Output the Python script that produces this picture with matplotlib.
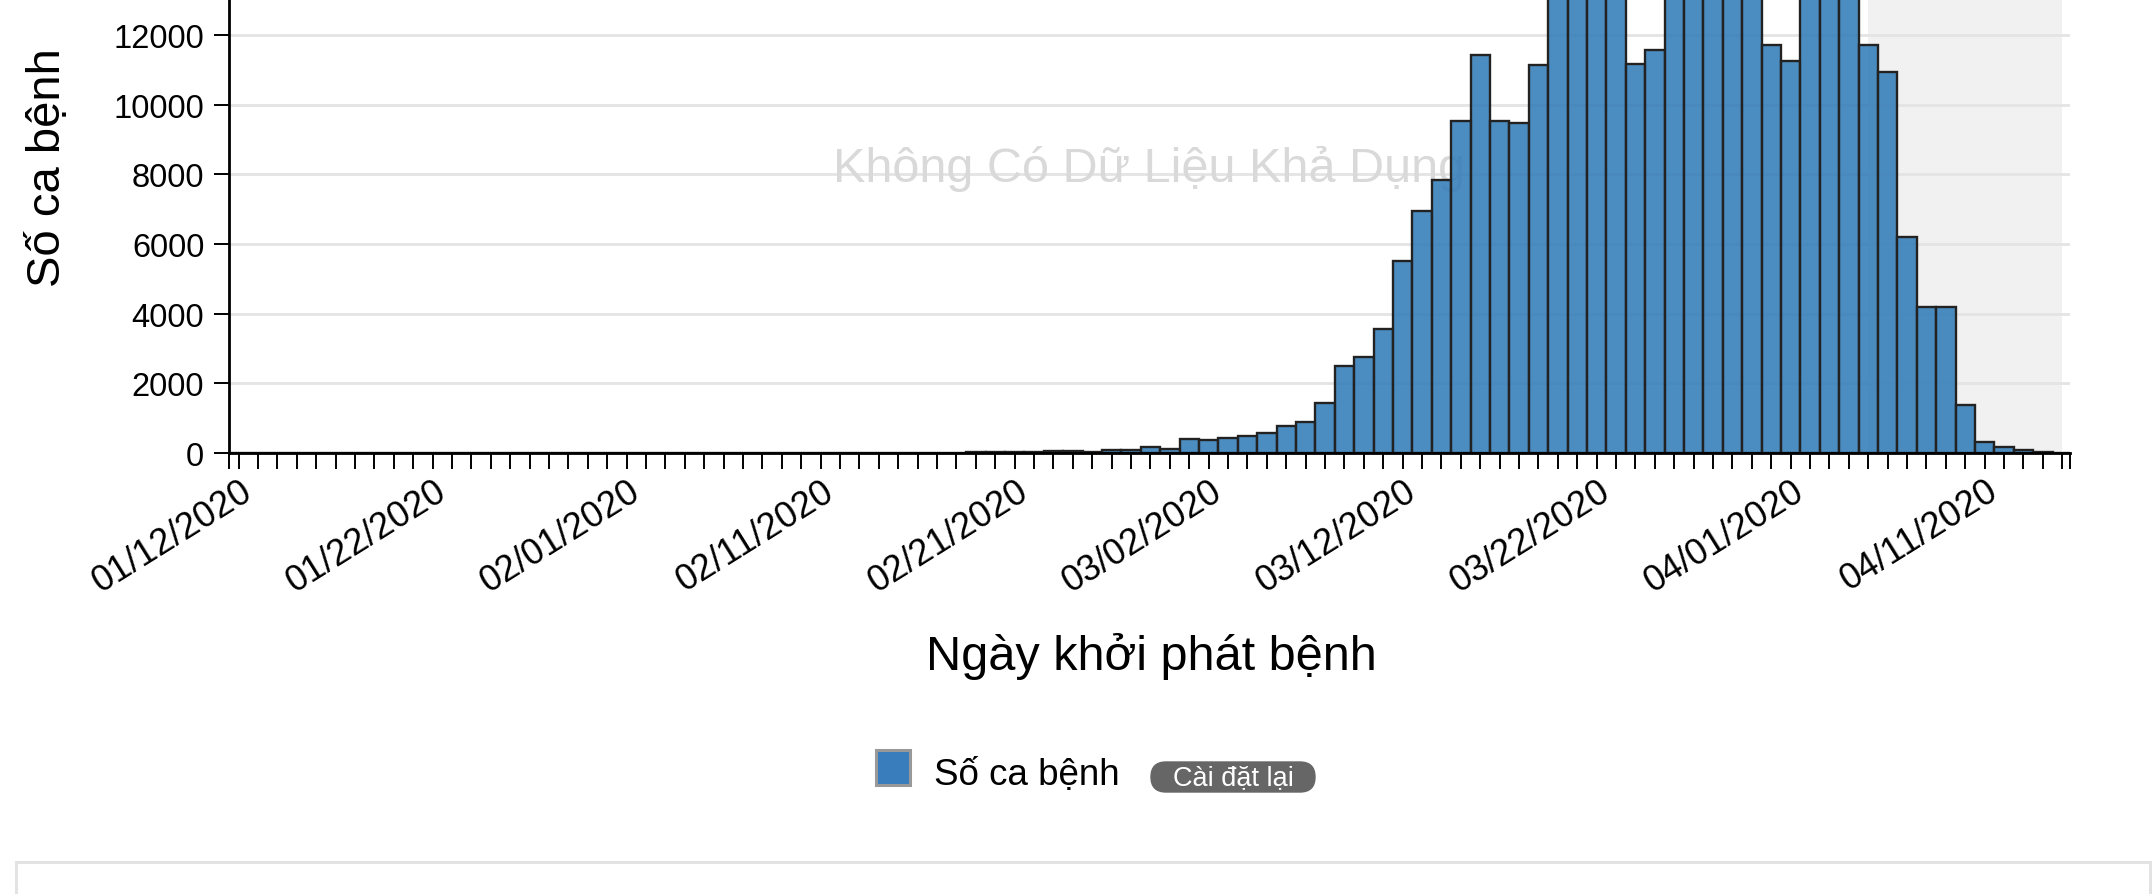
import datetime as dt
import matplotlib
matplotlib.use("Agg")
import matplotlib.pyplot as plt
from matplotlib.patches import Rectangle, FancyBboxPatch
from matplotlib.transforms import IdentityTransform, ScaledTranslation, blended_transform_factory

plt.rcParams['font.family'] = ['Liberation Sans', 'DejaVu Sans']

# ---------------- data ----------------
start_date = dt.date(2020, 1, 12)
n_days = 95
dates = [start_date + dt.timedelta(days=i) for i in range(n_days)]
date_labels = [d.strftime('%m/%d/%Y') for d in dates]

cases_jan = [0, 0, 1, 0, 1, 0, 1, 1, 0, 1, 1, 2, 1, 2, 1, 2, 2, 3, 2, 3]
cases_feb = [2, 3, 3, 2, 3, 2, 4, 3, 4, 3, 4, 5, 4, 5, 6, 8,
             12, 14, 18, 24, 30, 25,
             50, 70, 40, 90, 90, 160, 115]
cases_mar = [400, 375, 430, 500, 575, 770, 900, 1440, 2500, 2750,
             3570, 5500, 6950, 7840, 9520, 11430, 9520, 9460, 11130, 13600,
             14100, 13900, 14300, 11170, 11560, 13800, 14400, 14000, 14600, 13500,
             11700]
cases_apr = [11260, 13900, 14200, 13400, 11710, 10940, 6200, 4190, 4190, 1370,
             330, 170, 80, 20, 6]
cases = cases_jan + cases_feb + cases_mar + cases_apr

y_ticks = [0, 2000, 4000, 6000, 8000, 10000, 12000]
label_every = 10
shade_start, shade_end = 84, 94  # 04/05 .. 04/15 (incomplete data window)

y_label = 'Số ca bệnh'
x_label = 'Ngày khởi phát bệnh'
watermark = 'Không Có Dữ Liệu Khả Dụng'
legend_label = 'Số ca bệnh'
reset_label = 'Cài đặt lại'

# ---------------- figure ----------------
W, H = 2154, 895
fig = plt.figure(figsize=(W / 100, H / 100), dpi=100)
fig.patch.set_facecolor('white')

ax_left, ax_right, ax_bottom = 229, 2070, 454
ax = fig.add_axes([ax_left / W, (H - ax_bottom) / H, (ax_right - ax_left) / W, ax_bottom / H])

xmin, xmax = -0.5, 94.4
ax.set_xlim(xmin, xmax)
ax.set_ylim(0, 13033)

x = list(range(n_days))
ax.axvspan(shade_start, shade_end, color='#f1f1f1', zorder=0.1, lw=0)
ax.bar(x, cases, width=1.0, facecolor=(0.184, 0.478, 0.718, 0.86),
       edgecolor='#222222', linewidth=1.7, zorder=2)

ax.text(0.5, 8180, watermark, transform=blended_transform_factory(ax.transAxes, ax.transData),
        ha='center', va='center', fontsize=35, color='#d9d9d9', zorder=1)

# grid
ax.set_axisbelow(True)
ax.yaxis.grid(True, color='#e4e4e4', linewidth=2.0)
ax.set_yticks(y_ticks)
ax.set_yticklabels([str(v) for v in y_ticks])

# spines
for s in ['top', 'right']:
    ax.spines[s].set_visible(False)
for s in ['left', 'bottom']:
    ax.spines[s].set_linewidth(2.0)
    ax.spines[s].set_color('black')
    ax.spines[s].set_zorder(3)

# x ticks
major = list(range(0, n_days, label_every))
ax.set_xticks(major)
ax.set_xticklabels([date_labels[i] for i in major], rotation=32, ha='right',
                   rotation_mode='anchor', fontsize=26)
ax.set_xticks(list(range(n_days)) + [xmin, xmax], minor=True)
ax.tick_params(axis='x', which='both', length=11.5, width=1.4, color='black', pad=3)
ax.tick_params(axis='y', which='major', length=10.8, width=1.4, color='black', pad=7,
               labelsize=23.5)
offset = ScaledTranslation(1 / 100, 0, fig.dpi_scale_trans)
for lab in ax.get_xticklabels():
    lab.set_transform(lab.get_transform() + offset)

# axis labels
fig.text(48 / W, 1 - 168 / H, y_label, rotation=90, ha='center', va='center', fontsize=34)
fig.text(1151 / W, 1 - 657 / H, x_label, ha='center', va='center', fontsize=35)

# legend (custom, pixel coordinates, origin bottom-left)
ident = IdentityTransform()
fig.add_artist(Rectangle((876, H - 786), 34, 35, transform=ident,
                         facecolor='#397dbc', edgecolor='#999999', lw=2.2))
fig.text(934 / W, 1 - 776 / H, legend_label, ha='left', va='center', fontsize=26.5)
fig.add_artist(FancyBboxPatch((1151, H - 793), 164, 30, transform=ident,
                              boxstyle='round,pad=0,rounding_size=15',
                              facecolor='#666666', edgecolor='#666666', lw=1))
fig.text(1233 / W, 1 - 778 / H, reset_label, ha='center', va='center', fontsize=19.5, color='white')

# lower panel border (cropped)
fig.add_artist(Rectangle((16, -20), 2134, H - 863 + 20, transform=ident,
                         fill=False, edgecolor='#e3e3e3', lw=2.2))

fig.savefig('out.png', dpi=100)
